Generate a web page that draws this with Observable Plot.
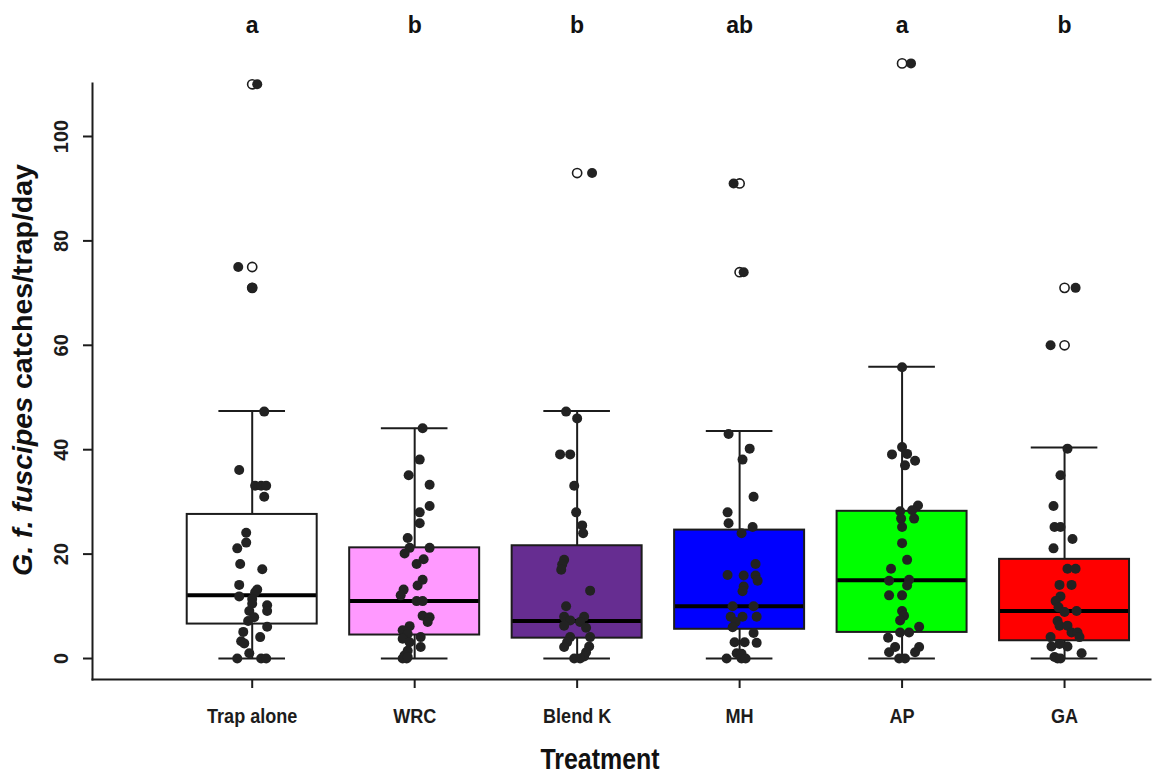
<!DOCTYPE html>
<html>
<head>
<meta charset="utf-8">
<script src="https://cdn.jsdelivr.net/npm/d3@7"></script>
<script src="https://cdn.jsdelivr.net/npm/@observablehq/plot@0.6"></script>
<style>
  html, body { margin: 0; padding: 0; background: #ffffff; }
  #chart svg { display: block; }
</style>
</head>
<body>
<div id="chart"></div>
<script>
// ---------- data ----------
const categories = ["Trap alone", "WRC", "Blend K", "MH", "AP", "GA"];
const boxFills   = ["#ffffff", "#ff99ff", "#662d91", "#0000ff", "#00ff00", "#ff0000"];
const letters    = ["a", "b", "b", "ab", "a", "b"];

const whiskerLow  = [0, 0, 0, 0, 0, 0];
const quartile1   = [6.6, 4.5, 3.9, 5.6, 5.0, 3.4];
const medians     = [12.1, 11.0, 7.2, 10.0, 15.0, 9.1];
const quartile3   = [27.6, 21.2, 21.6, 24.6, 28.2, 19.0];
const whiskerHigh = [47.4, 44.1, 47.4, 43.6, 55.9, 40.4];

const outlierGroup = ["Trap alone", "Trap alone", "Trap alone", "Blend K", "MH", "MH", "AP", "GA", "GA"];
const outlierValue = [110, 75, 71, 93, 91, 74, 114, 71, 60];

const yTicks = [0, 20, 40, 60, 80, 100];

// jittered observations (value, horizontal jitter in category units)
const trapValues = [110, 75, 71, 47.3, 36.1, 33.1, 33.1, 33.1, 31.0, 24.1, 22.2, 21.1, 18.1, 17.1, 14.1, 13.2, 12.7, 11.9, 11.4, 10.5, 10.2, 9.1, 9.1, 7.9, 7.2, 6.1, 5.1, 4.1, 3.3, 2.9, 1.0, 0, 0, 0];
const trapJitter = [0.031, -0.086, 0, 0.074, -0.080, 0.018, 0.055, 0.086, 0.074, -0.037, -0.037, -0.092, -0.074, 0.062, -0.080, 0.031, 0.018, -0.080, 0, 0, 0.092, 0.092, -0.018, 0.012, -0.025, 0.092, -0.055, 0.049, -0.068, -0.049, -0.018, -0.092, 0.055, 0.086];

const wrcValues = [44.1, 38.1, 35.1, 33.3, 29.2, 28.0, 25.9, 23.1, 21.2, 20.1, 21.2, 19.0, 18.1, 15.1, 14.0, 13.2, 12.1, 11.0, 11.0, 8.2, 7.9, 7.0, 6.2, 5.4, 4.7, 3.8, 4.1, 3.1, 2.2, 1.5, 0.6, 0, 0, 0.3];
const wrcJitter = [0.049, 0.031, -0.037, 0.092, 0.092, 0.031, 0.031, -0.043, -0.031, -0.062, 0.092, 0.055, 0.012, 0.049, 0.018, -0.068, -0.086, 0.012, 0.049, 0.049, 0.092, 0.080, -0.031, -0.074, -0.043, -0.074, 0.037, -0.031, 0.037, -0.043, -0.062, -0.049, -0.074, -0.043];

const blendValues = [93, 47.3, 46.0, 39.1, 39.1, 33.1, 28.0, 25.5, 24.0, 18.9, 18.0, 17.0, 13.0, 10.0, 8.0, 7.3, 8.0, 6.3, 7.0, 5.9, 4.1, 4.1, 3.1, 2.2, 2.3, 1.2, 0.4, 0, 0];
const blendJitter = [0.092, -0.068, 0, -0.105, -0.043, -0.018, -0.006, 0.031, 0.037, -0.080, -0.092, -0.098, 0.080, -0.068, -0.080, -0.043, 0.043, -0.080, 0.018, 0.055, -0.043, 0.080, -0.062, -0.080, 0.074, 0.055, 0.043, -0.018, 0.018];

const mhValues = [91, 74, 43.0, 40.2, 38.1, 31.0, 28.0, 25.9, 25.2, 24.0, 18.1, 16.0, 15.9, 15.9, 14.9, 13.8, 12.9, 10.0, 10.0, 8.0, 8.0, 8.0, 7.0, 6.0, 4.9, 3.1, 3.1, 3.0, 1.0, 0.9, 0, 0, 0];
const mhJitter = [-0.037, 0.025, -0.068, 0.062, 0.018, 0.086, -0.074, -0.068, 0.080, 0.012, 0.098, -0.074, 0.025, 0.098, 0.111, 0.025, 0.018, -0.043, 0.086, -0.055, 0.018, 0.105, -0.025, -0.043, 0.086, -0.031, 0.031, 0.105, -0.018, 0.012, -0.080, 0.012, 0.037];

const apValues = [114, 55.8, 40.5, 39.1, 39.2, 37.9, 37.0, 29.3, 28.2, 28.4, 26.8, 26.8, 25.2, 22.1, 18.9, 17.2, 14.9, 15.1, 14.0, 12.1, 12.1, 9.1, 8.2, 7.3, 6.1, 5.0, 5.0, 4.0, 2.2, 1.2, 2.2, 1.2, 0, 0];
const apJitter = [0.055, 0, 0, -0.062, 0.031, 0.080, 0.018, 0.098, -0.012, 0.062, -0.006, 0.074, 0, 0, 0.031, -0.068, -0.080, 0.043, 0.031, -0.080, 0, 0, 0.012, -0.012, 0.105, -0.012, 0.043, -0.086, -0.043, -0.080, 0.105, 0.080, -0.018, 0.018];

const gaValues = [71, 60, 40.2, 35.1, 29.2, 25.2, 25.2, 22.9, 21.1, 17.2, 17.2, 14.1, 14.1, 11.9, 11.0, 9.8, 8.9, 9.1, 7.2, 6.3, 6.3, 5.0, 5.0, 4.1, 4.1, 2.3, 2.3, 2.8, 1.0, 0.3, 0, 0];
const gaJitter = [0.068, -0.086, 0.018, -0.025, -0.068, -0.062, -0.025, 0.049, -0.068, 0.018, 0.068, -0.031, 0.043, -0.025, -0.055, -0.037, 0, 0.074, -0.043, -0.031, 0.018, 0.043, 0.080, 0.092, -0.086, -0.080, 0.018, -0.031, 0.105, -0.062, -0.043, -0.025];

// ---------- tables built from the arrays ----------
const groupValues = [trapValues, wrcValues, blendValues, mhValues, apValues, gaValues];
const groupJitter = [trapJitter, wrcJitter, blendJitter, mhJitter, apJitter, gaJitter];

const boxes = categories.map((c, i) => ({
  pos: i + 1, name: c, fill: boxFills[i], letter: letters[i],
  lo: whiskerLow[i], q1: quartile1[i], med: medians[i], q3: quartile3[i], hi: whiskerHigh[i]
}));
const points = [];
groupValues.forEach((vals, g) => vals.forEach((v, k) => points.push({x: g + 1 + groupJitter[g][k], y: v})));
const outliers = outlierGroup.map((g, k) => ({x: categories.indexOf(g) + 1, y: outlierValue[k]}));

const FONT = "'Liberation Sans', Arial, Helvetica, sans-serif";
const INK = "#1c1c1c";
const HALF_BOX = 0.4, HALF_CAP = 0.205;
const CONDENSE = 0.86; // the reference uses a narrow bold face

const chart = Plot.plot({
  width: 1156,
  height: 773,
  marginLeft: 92,
  marginRight: 6,
  marginTop: 83,
  marginBottom: 94,
  style: {fontFamily: FONT, background: "#ffffff", color: INK, overflow: "visible"},
  x: {domain: [0.017, 6.529], axis: null},
  y: {domain: [-4.02, 110.15], axis: null},
  color: {type: "identity"},
  marks: [
    // boxes
    Plot.rect(boxes, {x1: d => d.pos - HALF_BOX, x2: d => d.pos + HALF_BOX, y1: "q1", y2: "q3", fill: "fill"}),
    // whiskers
    Plot.ruleX(boxes, {x: "pos", y1: "q3", y2: "hi", stroke: INK, strokeWidth: 2}),
    Plot.ruleX(boxes, {x: "pos", y1: "lo", y2: "q1", stroke: INK, strokeWidth: 2}),
    Plot.ruleY(boxes, {y: "hi", x1: d => d.pos - HALF_CAP, x2: d => d.pos + HALF_CAP, stroke: INK, strokeWidth: 2}),
    Plot.ruleY(boxes, {y: "lo", x1: d => d.pos - HALF_CAP, x2: d => d.pos + HALF_CAP, stroke: INK, strokeWidth: 2}),
    // median
    Plot.ruleY(boxes, {y: "med", x1: d => d.pos - HALF_BOX, x2: d => d.pos + HALF_BOX, stroke: "#000", strokeWidth: 4}),
    // box border
    Plot.rect(boxes, {x1: d => d.pos - HALF_BOX, x2: d => d.pos + HALF_BOX, y1: "q1", y2: "q3", fill: "none", stroke: INK, strokeWidth: 2}),
    // boxplot outliers (open circles)
    Plot.dot(outliers, {x: "x", y: "y", r: 4.6, fill: "#ffffff", stroke: INK, strokeWidth: 1.6}),
    // jittered observations
    Plot.dot(points, {x: "x", y: "y", r: 5, fill: "#222222", stroke: "none"}),
    // significance letters
    Plot.text(boxes, {x: "pos", y: 121.3, text: "letter", fontSize: 23, fontWeight: "bold", fill: "#111", ariaLabel: "letters"}),
    // axes
    Plot.frame({anchor: "left", stroke: INK, strokeWidth: 2}),
    Plot.frame({anchor: "bottom", stroke: INK, strokeWidth: 2}),
    Plot.axisY({ticks: yTicks, tickSize: 9, tickRotate: -90, tickPadding: 16, fontSize: 20, fontWeight: "bold", label: null, strokeWidth: 2}),
    Plot.axisX({ticks: [1, 2, 3, 4, 5, 6], tickFormat: d => categories[d - 1], tickSize: 9, tickPadding: 20, fontSize: 21, fontWeight: "bold", label: null, strokeWidth: 2})
  ]
});

document.getElementById("chart").appendChild(chart);

// axis titles (mixed italic text needs tspans)
const svg = d3.select(chart);
const yTitle = svg.append("text")
  .attr("transform", "translate(32,370) rotate(-90)")
  .attr("text-anchor", "middle")
  .attr("font-family", FONT)
  .attr("font-size", 28.5)
  .attr("font-weight", "bold")
  .attr("fill", "#111");
yTitle.append("tspan").attr("font-style", "italic").text("G. f. fuscipes");
yTitle.append("tspan").text(" catches/trap/day");

svg.append("text")
  .attr("class", "condensed")
  .attr("x", 600).attr("y", 769)
  .attr("text-anchor", "middle")
  .attr("font-family", FONT)
  .attr("font-size", 29)
  .attr("font-weight", "bold")
  .attr("fill", "#111")
  .text("Treatment");

// emulate the narrow bold face of the reference
svg.selectAll('g[aria-label="x-axis tick label"] text, g[aria-label="letters"] text, text.condensed').each(function () {
  const w = this.getComputedTextLength();
  if (w > 0) {
    this.setAttribute("textLength", (w * CONDENSE).toFixed(1));
    this.setAttribute("lengthAdjust", "spacingAndGlyphs");
  }
});
</script>
</body>
</html>
